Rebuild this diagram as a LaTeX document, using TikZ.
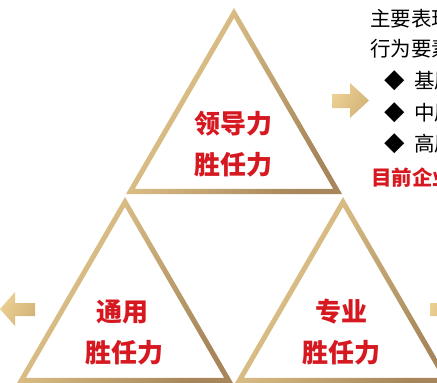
\documentclass[tikz,border=0pt]{standalone}
\usepackage{fontspec}
\newfontfamily\cjk{Noto Sans CJK SC}
\usetikzlibrary{calc}
\definecolor{goldL}{RGB}{236,208,148}
\definecolor{goldM}{RGB}{222,190,128}
\definecolor{goldD}{RGB}{166,134,90}
\definecolor{redT}{RGB}{214,24,32}
\tikzset{
  tri/.style={left color=goldL, right color=goldD, shading angle=60, even odd rule},
  arr/.style={left color=goldL, right color=goldM!80!goldD, shading angle=60},
  bigtxt/.style={font=\cjk\bfseries\fontsize{26}{26}\selectfont, text=redT, inner sep=0pt},
  sidetxt/.style={font=\cjk\fontsize{20.5}{20.5}\selectfont, text=black, inner sep=0pt, anchor=west},
  redtxt/.style={font=\cjk\bfseries\fontsize{20.5}{20.5}\selectfont, text=redT, inner sep=0pt, anchor=west},
  dia/.style={font=\cjk\fontsize{20.5}{20.5}\selectfont, text=black, inner sep=0pt}
}
\newcommand\goldtri[2]{%
  \coordinate (A) at (#1,#2);
  \coordinate (B) at (#1-108,#2+186);
  \coordinate (C) at (#1+108,#2+186);
  \coordinate (G) at (#1,#2+124);
  \shade[tri] (A)--(B)--(C)--cycle
     ($(G)!0.919!(A)$)--($(G)!0.919!(B)$)--($(G)!0.919!(C)$)--cycle;}
\begin{document}
\begin{tikzpicture}[x=1pt,y=-1pt]
\useasboundingbox (0,0) rectangle (437,383);
\clip (0,0) rectangle (437,383);
% triangles
\goldtri{234}{8}
\goldtri{125}{197}
\goldtri{343}{197}
% arrows
\shade[arr] (332,94)--(350,94)--(350,83)--(369,100.5)--(350,118)--(350,108)--(332,108)--cycle;
\shade[arr] (35,303)--(15,303)--(15,292)--(0,309)--(15,326)--(15,316)--(35,316)--cycle;
\shade[arr] (430,303)--(450,303)--(450,292)--(465,309)--(450,326)--(450,316)--(430,316)--cycle;
% triangle texts
\node[bigtxt] (t1) at (233.5,123.5) {领导力};
\node[bigtxt] (t2) at (233.5,164.5) {胜任力};
\node[bigtxt] (l1) at (122.5,311.5) {通用};
\node[bigtxt] (l2) at (124,352.5) {胜任力};
\node[bigtxt] (r1) at (341,311.5) {专业};
\node[bigtxt] (r2) at (341,352.5) {胜任力};
% side text
\node[sidetxt] (s1) at (370,19) {主要表现};
\node[sidetxt] (s2) at (370,49) {行为要素};
\node[dia] (d1) at (394.5,81) {◆};
\node[dia] (d2) at (394.5,113) {◆};
\node[dia] (d3) at (394.5,144) {◆};
\node[sidetxt] (b1) at (414,81) {基层};
\node[sidetxt] (b2) at (414,113) {中层};
\node[sidetxt] (b3) at (414,144) {高层};
\node[redtxt] (rt) at (371,178) {目前企业};
\end{tikzpicture}
\end{document}
